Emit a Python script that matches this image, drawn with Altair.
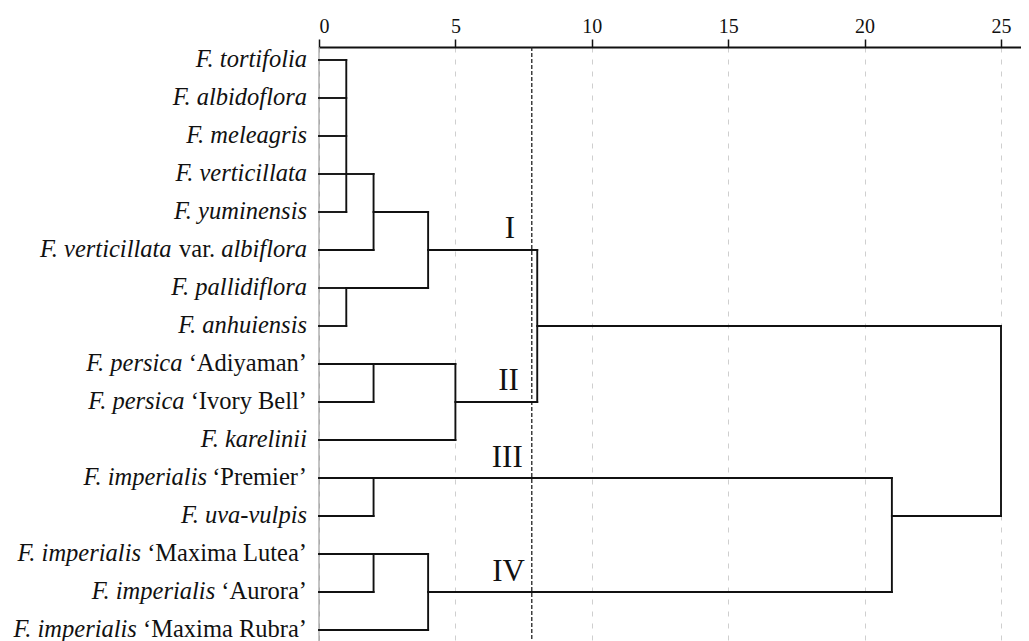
import altair as alt
import pandas as pd

# ---------------- data ----------------
leaf_italic = ["F. tortifolia", "F. albidoflora", "F. meleagris", "F. verticillata",
               "F. yuminensis", "F. verticillata", "F. pallidiflora", "F. anhuiensis",
               "F. persica", "F. persica", "F. karelinii", "F. imperialis",
               "F. uva-vulpis", "F. imperialis", "F. imperialis", "F. imperialis"]
leaf_roman = ["", "", "", "", "", "var.", "", "", "\u2018Adiyaman\u2019", "\u2018Ivory Bell\u2019",
              "", "\u2018Premier\u2019", "", "\u2018Maxima Lutea\u2019", "\u2018Aurora\u2019",
              "\u2018Maxima Rubra\u2019"]
leaf_tail = ["", "", "", "", "", "albiflora", "", "", "", "", "", "", "", "", "", ""]
leaf_join_x = [1, 1, 1, 1, 1, 2, 1, 1, 2, 2, 5, 2, 2, 2, 2, 4]

join_height = [1, 2, 1, 4, 2, 5, 8, 2, 2, 4, 21, 25]
join_top = [0, 3, 6, 4, 8, 8, 5, 11, 13, 13, 11, 7]
join_bottom = [4, 5, 7, 6, 9, 10, 9, 12, 14, 15, 14, 12]
join_out = [3, 4, 6, 5, 8, 9, 7, 11, 13, 14, 12, None]
join_parent = [2, 4, 4, 8, 5, 8, 25, 21, 4, 21, 25, None]

cluster_names = ["I", "II", "III", "IV"]
cluster_x = [7.0, 6.95, 6.9, 6.95]
cluster_y = [4.45, 8.45, 10.47, 13.47]

threshold = [7.8]
tick_values = [0, 5, 10, 15, 20, 25]

# ---------------- layout constants ----------------
FONT = "Liberation Serif"
PX_PER_UNIT = 27.28
W, H = 702, 594
ROW_PX = 38.0

# ---------------- build tables ----------------
segs = []
for i, lx in enumerate(leaf_join_x):
    segs.append(dict(x=0, x2=lx, y=i, y2=i))
for h, t, b, o, p in zip(join_height, join_top, join_bottom, join_out, join_parent):
    segs.append(dict(x=h, x2=h, y=t, y2=b))
    if o is not None:
        segs.append(dict(x=h, x2=p, y=o, y2=o))
seg_df = pd.DataFrame(segs)

FS = 24.5
ROMAN_W = {" ": 250, "\u2018": 333, "\u2019": 333, ".": 250, "A": 722, "B": 667, "I": 333,
           "L": 611, "M": 889, "P": 556, "R": 667, "a": 444, "b": 500, "d": 500, "e": 444,
           "i": 278, "l": 278, "m": 778, "n": 500, "o": 500, "r": 333, "t": 278, "u": 500,
           "v": 500, "x": 500, "y": 500}
ITAL_W = {" ": 250, ".": 250, "-": 333, "F": 611, "a": 500, "b": 500, "c": 444, "d": 500,
          "e": 444, "f": 278, "g": 500, "h": 500, "i": 278, "k": 444, "l": 278, "m": 722,
          "n": 500, "o": 500, "p": 500, "r": 389, "s": 389, "t": 278, "u": 500, "v": 444,
          "y": 444, "x": 444}


def width(s, table):
    return sum(table.get(c, 500) for c in s) * FS / 1000.0


GAP = 12
rows = []
for i in range(len(leaf_italic)):
    parts = []
    if leaf_tail[i]:
        parts.append((leaf_tail[i], "italic"))
    if leaf_roman[i]:
        parts.append((leaf_roman[i], "normal"))
    parts.append((leaf_italic[i], "italic"))
    off = GAP
    for txt, style in parts:
        rows.append(dict(x=-off / PX_PER_UNIT, y=i, text=txt, style=style))
        tbl = ITAL_W if style == "italic" else ROMAN_W
        off += width(txt, tbl) + 250 * FS / 1000.0
lab_df = pd.DataFrame(rows)

clu_df = pd.DataFrame(dict(x=cluster_x, y=cluster_y, text=cluster_names))
thr_df = pd.DataFrame(dict(x=threshold))
zero_df = pd.DataFrame(dict(x=[0]))

# ---------------- scales ----------------
xscale = alt.Scale(domain=[0, W / PX_PER_UNIT], nice=False, zero=False)
yscale = alt.Scale(domain=[-0.342, -0.342 + H / ROW_PX], nice=False, zero=False, reverse=True)
xaxis = alt.Axis(orient="top", values=tick_values, grid=True, gridDash=[5, 7],
                 gridColor="#cfcfcf", gridWidth=1, domainColor="#111", domainWidth=1.8,
                 tickColor="#111", tickSize=8, tickWidth=1.5, labelFont=FONT,
                 labelFontSize=20, labelColor="#111", labelPadding=3, title=None)


def X(field="x"):
    return alt.X(f"{field}:Q", scale=xscale, axis=xaxis, title=None)


def Y(field="y"):
    return alt.Y(f"{field}:Q", scale=yscale, axis=None, title=None)


segments = alt.Chart(seg_df).mark_rule(color="#111", strokeWidth=1.9, strokeCap="square").encode(
    x=X(), x2="x2:Q", y=Y(), y2="y2:Q")

zero_line = alt.Chart(zero_df).mark_rule(color="#888", strokeWidth=1).encode(x=X())

thr_line = alt.Chart(thr_df).mark_rule(color="#222", strokeWidth=1.3, strokeDash=[4, 2]).encode(x=X())

lab_it = alt.Chart(lab_df).transform_filter(alt.datum.style == "italic").mark_text(
    align="right", baseline="middle", font=FONT, fontSize=FS, fontStyle="italic", color="#111"
).encode(x=X(), y=Y(), text="text:N")

lab_rm = alt.Chart(lab_df).transform_filter(alt.datum.style == "normal").mark_text(
    align="right", baseline="middle", font=FONT, fontSize=FS, fontStyle="normal", color="#111"
).encode(x=X(), y=Y(), text="text:N")

clusters = alt.Chart(clu_df).mark_text(
    align="center", baseline="middle", font=FONT, fontSize=31, color="#111"
).encode(x=X(), y=Y(), text="text:N")

chart = alt.layer(zero_line, thr_line, segments, lab_it, lab_rm, clusters).properties(
    width=W, height=H,
    padding={"left": 311, "top": 39, "right": 0, "bottom": 0},
    autosize=alt.AutoSizeParams(type="none"),
    background="white",
).configure_view(strokeWidth=0)

chart.save("out.html", embed_options={"renderer": "svg", "actions": False})
